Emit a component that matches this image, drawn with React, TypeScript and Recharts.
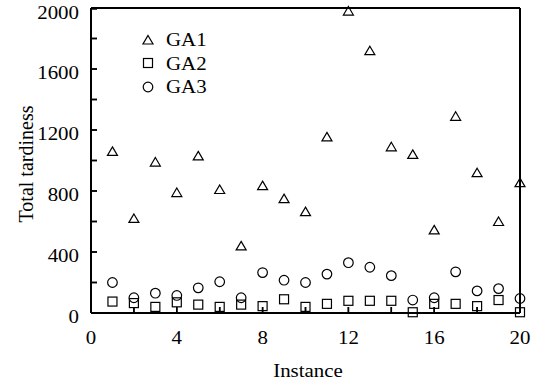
import React from 'react';
import { ScatterChart, Scatter, XAxis, YAxis, Legend, ReferenceLine } from 'recharts';

const instances = [1, 2, 3, 4, 5, 6, 7, 8, 9, 10, 11, 12, 13, 14, 15, 16, 17, 18, 19, 20];
const ga1 = [1060, 620, 990, 790, 1030, 810, 440, 835, 750, 665, 1155, 1980, 1720, 1090, 1040, 545, 1290, 920, 600, 855];
const ga2 = [75, 65, 40, 70, 55, 40, 55, 45, 90, 40, 60, 80, 80, 80, 5, 60, 60, 45, 85, 5];
const ga3 = [200, 100, 130, 115, 165, 205, 100, 265, 215, 200, 255, 330, 300, 245, 85, 100, 270, 145, 160, 95];

const xTicks = [0, 2, 4, 6, 8, 10, 12, 14, 16, 18, 20];
const yTicks = [0, 200, 400, 600, 800, 1000, 1200, 1400, 1600, 1800, 2000];

const toPoints = (vals: number[]) => instances.map((x, i) => ({ x, y: vals[i] }));

const font = '"Liberation Serif", "Times New Roman", serif';
const ink = '#000';
const stretch = 1.1; // the original text is a bit wider than plain Times

const Triangle = ({ cx, cy }: any) => (
  <path d={`M${cx},${cy - 4.5}L${cx + 5},${cy + 4}L${cx - 5},${cy + 4}Z`} fill="none" stroke={ink} strokeWidth={1.2} />
);
const Square = ({ cx, cy }: any) => (
  <rect x={cx - 4.5} y={cy - 4.5} width={9} height={9} fill="none" stroke={ink} strokeWidth={1.2} />
);
const Circle = ({ cx, cy }: any) => (
  <circle cx={cx} cy={cy} r={4.8} fill="none" stroke={ink} strokeWidth={1.2} />
);

const series = [
  { name: 'GA1', vals: ga1, shape: Triangle },
  { name: 'GA2', vals: ga2, shape: Square },
  { name: 'GA3', vals: ga3, shape: Circle },
];

const LegendBox = () => (
  <div style={{ fontFamily: font, fontSize: 19, color: ink, lineHeight: '23.5px' }}>
    {series.map(s => {
      const Shape = s.shape;
      return (
        <div key={s.name} style={{ display: 'flex', alignItems: 'center' }}>
          <svg width={14} height={14} style={{ marginRight: 11 }}>
            <Shape cx={7} cy={7} />
          </svg>
          <span style={{ display: 'inline-block', transform: `scaleX(${stretch})`, transformOrigin: 'left center' }}>
            {s.name}
          </span>
        </div>
      );
    })}
  </div>
);

// bottom ticks: inward mark plus label every 4
const XTick = ({ x, y, payload }: any) => {
  const axisY = y - 18;
  return (
    <g>
      <line x1={x} x2={x} y1={axisY} y2={axisY - 6} stroke={ink} strokeWidth={1.5} />
      {payload.value % 4 === 0 && (
        <text
          transform={`translate(${x},${y + 13}) scale(${stretch},1)`}
          textAnchor="middle"
          fontFamily={font}
          fontSize={19}
          fill={ink}
        >
          {payload.value}
        </text>
      )}
    </g>
  );
};

// left ticks: inward mark plus label every 400
const YTick = ({ x, y, payload }: any) => {
  const axisX = x + 12;
  return (
    <g>
      <line x1={axisX} x2={axisX + 6} y1={y} y2={y} stroke={ink} strokeWidth={1.5} />
      {payload.value % 400 === 0 && (
        <text
          transform={`translate(${x},${y + 10}) scale(${stretch},1)`}
          textAnchor="end"
          fontFamily={font}
          fontSize={19}
          fill={ink}
        >
          {payload.value}
        </text>
      )}
    </g>
  );
};

const axisLine = { stroke: ink, strokeWidth: 2 };
const tickLine = { stroke: ink, strokeWidth: 1.5 };

export default function App() {
  return (
    <div style={{ position: 'absolute', left: 0, top: 0, width: 543, height: 387, background: '#fff' }}>
      <ScatterChart width={543} height={387} margin={{ top: 7, right: 22, bottom: 24, left: 31 }}>
        <XAxis
          xAxisId="b"
          type="number"
          dataKey="x"
          domain={[0, 20]}
          ticks={xTicks}
          height={50}
          tickSize={-6}
          tickMargin={24}
          tick={<XTick />}
          stroke={ink}
          axisLine={axisLine}
          tickLine={tickLine}
        />
        <XAxis
          xAxisId="t"
          orientation="top"
          type="number"
          domain={[0, 20]}
          ticks={xTicks}
          tickFormatter={() => ''}
          height={1}
          tickSize={-6}
          stroke={ink}
          axisLine={axisLine}
          tickLine={tickLine}
        />
        <YAxis
          yAxisId="l"
          type="number"
          dataKey="y"
          domain={[0, 2000]}
          ticks={yTicks}
          width={60}
          tickSize={-6}
          tickMargin={18}
          tick={<YTick />}
          stroke={ink}
          axisLine={axisLine}
          tickLine={tickLine}
        />
        <YAxis
          yAxisId="r"
          orientation="right"
          type="number"
          domain={[0, 2000]}
          ticks={yTicks}
          tickFormatter={() => ''}
          width={1}
          tickSize={-6}
          stroke={ink}
          axisLine={axisLine}
          tickLine={tickLine}
        />
        <ReferenceLine xAxisId="b" yAxisId="l" y={0} stroke={ink} strokeWidth={2} />
        <ReferenceLine xAxisId="b" yAxisId="l" x={0} stroke={ink} strokeWidth={2} />
        <Legend
          content={() => <LegendBox />}
          layout="vertical"
          verticalAlign="middle"
          align="center"
          wrapperStyle={{ top: 28, left: 141, width: 'auto' }}
        />
        {series.map(s => (
          <Scatter
            key={s.name}
            name={s.name}
            xAxisId="b"
            yAxisId="l"
            data={toPoints(s.vals)}
            shape={s.shape}
            isAnimationActive={false}
          />
        ))}
      </ScatterChart>
      <div
        style={{
          position: 'absolute',
          left: 0,
          top: 361,
          width: 616,
          textAlign: 'center',
          fontFamily: font,
          fontSize: 19,
          lineHeight: '19px',
          color: ink,
          transform: `scaleX(${stretch})`,
          transformOrigin: '308px 0',
        }}
      >
        Instance
      </div>
      <div
        style={{
          position: 'absolute',
          left: 26,
          top: 164,
          transform: 'translate(-50%, -50%) rotate(-90deg)',
          whiteSpace: 'nowrap',
          fontFamily: font,
          fontSize: 20,
          lineHeight: '20px',
          color: ink,
        }}
      >
        Total tardiness
      </div>
    </div>
  );
}
